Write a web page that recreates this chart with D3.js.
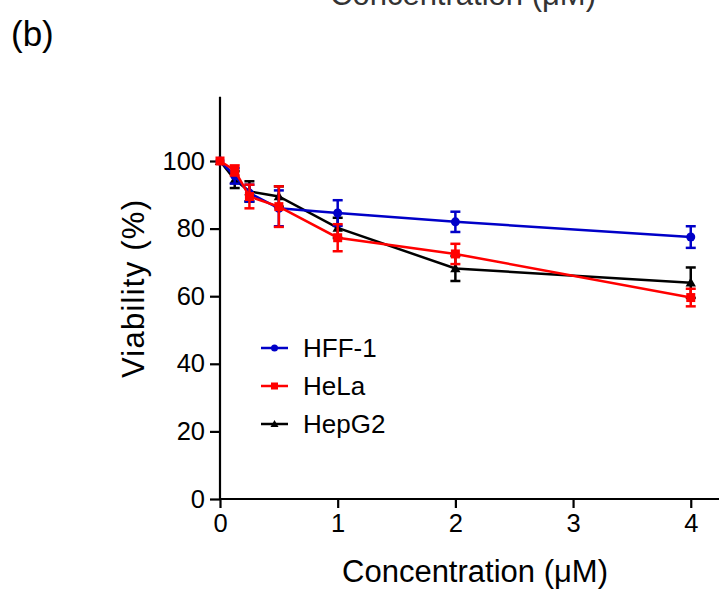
<!DOCTYPE html>
<html>
<head>
<meta charset="utf-8">
<script src="https://cdn.jsdelivr.net/npm/d3@7"></script>
<style>
  body { margin: 0; background: #fff; }
  svg { font-family: Arial, "Liberation Sans", sans-serif; }
</style>
</head>
<body>
<div id="chart"></div>
<script>
// data
const concentrations = [0, 0.125, 0.25, 0.5, 1, 2, 4];
const xTicks = [0, 1, 2, 3, 4];
const yTicks = [0, 20, 40, 60, 80, 100];

const hffMean = [100, 95.6, 90.5, 86, 84.6, 82, 77.5];
const hffErr  = [0.8, 2.3, 2.5, 5.3, 3.8, 3.0, 3.2];
const helaMean = [100, 97.2, 89.5, 86.5, 77.3, 72.5, 59.6];
const helaErr  = [0.8, 1.5, 3.5, 6.0, 4.0, 3.0, 2.6];
const hepMean = [100, 94.5, 91.0, 89.5, 80.2, 68.2, 64.0];
const hepErr  = [0.8, 2.5, 3.0, 3.0, 3.0, 3.7, 4.5];

const series = [
    {name: "HFF-1", mean: hffMean, err: hffErr, color: "#0000c8", shape: "circle"},
    {name: "HeLa", mean: helaMean, err: helaErr, color: "#ff0000", shape: "square"},
    {name: "HepG2", mean: hepMean, err: hepErr, color: "#000000", shape: "triangle"}
];

const W = 719, H = 594;
const svg = d3.select("#chart").append("svg")
    .attr("width", W).attr("height", H);

// scales
const x = d3.scaleLinear().domain([0, 4.24]).range([220, 719]);
const y = d3.scaleLinear().domain([0, 100]).range([499, 161]);

// panel label and cut-off title from the panel above
svg.append("text").text("(b)")
    .attr("x", 11).attr("y", 46)
    .attr("font-size", 35);
svg.append("text").text("Concentration (\u03bcM)")
    .attr("x", 463).attr("y", 5)
    .attr("text-anchor", "middle").attr("font-size", 31)
    .attr("fill", "#333");

// axes
const xAxis = d3.axisBottom(x).tickValues(xTicks).tickSize(9).tickPadding(6)
    .tickFormat(d3.format("d"));
const yAxis = d3.axisLeft(y).tickValues(yTicks).tickSize(10).tickPadding(5);

const gx = svg.append("g").attr("transform", `translate(0,${y(0)})`).call(xAxis);
const gy = svg.append("g").attr("transform", `translate(${x(0)},0)`).call(yAxis);
[gx, gy].forEach(g => {
    g.selectAll("path, line").attr("stroke", "#000").attr("stroke-width", 2.2);
    g.selectAll("text").attr("font-size", 25.5).attr("fill", "#000")
        .attr("font-family", "Arial, 'Liberation Sans', sans-serif");
});
gx.select(".domain").attr("d", `M${x(0) - 1},0H${W}`);
gy.select(".domain").attr("d", `M0,${y(0)}V${y(119)}`);

// axis titles
svg.append("text").text("Concentration (\u03bcM)")
    .attr("x", 475).attr("y", 582)
    .attr("text-anchor", "middle").attr("font-size", 31);
svg.append("text").text("Viability (%)")
    .attr("transform", `translate(144,289) rotate(-90)`)
    .attr("text-anchor", "middle").attr("font-size", 31)
    .attr("textLength", 178).attr("lengthAdjust", "spacing");

function drawMarker(g, shape, cx, cy, color, size) {
    if (shape === "circle") {
        g.append("circle").attr("cx", cx).attr("cy", cy).attr("r", size).attr("fill", color);
    } else if (shape === "square") {
        g.append("rect").attr("x", cx - size).attr("y", cy - size)
            .attr("width", size * 2).attr("height", size * 2).attr("fill", color);
    } else {
        const s = size * 1.15;
        g.append("path").attr("d", `M${cx},${cy - s}L${cx + s},${cy + s * 0.75}L${cx - s},${cy + s * 0.75}Z`)
            .attr("fill", color);
    }
}

const line = d3.line().x((d, i) => x(concentrations[i])).y(d => y(d));

// draw in order so red ends on top like in the picture
const drawOrder = [series[2], series[0], series[1]];
drawOrder.forEach(s => {
    const g = svg.append("g");
    g.append("path").datum(s.mean)
        .attr("d", line).attr("fill", "none")
        .attr("stroke", s.color).attr("stroke-width", 2.5);
    s.mean.forEach((m, i) => {
        const cx = x(concentrations[i]);
        if (i > 0) {
            g.append("line").attr("x1", cx).attr("x2", cx)
                .attr("y1", y(m - s.err[i])).attr("y2", y(m + s.err[i]))
                .attr("stroke", s.color).attr("stroke-width", 2.5);
            [m - s.err[i], m + s.err[i]].forEach(v => {
                g.append("line").attr("x1", cx - 5).attr("x2", cx + 5)
                    .attr("y1", y(v)).attr("y2", y(v))
                    .attr("stroke", s.color).attr("stroke-width", 2.5);
            });
        }
        drawMarker(g, s.shape, cx, y(m), s.color, 4.5);
    });
});

// legend
const legend = svg.append("g");
series.forEach((s, i) => {
    const ly = 348 + i * 38;
    legend.append("line").attr("x1", 261).attr("x2", 288)
        .attr("y1", ly).attr("y2", ly)
        .attr("stroke", s.color).attr("stroke-width", 2.5);
    drawMarker(legend, s.shape, 274.5, ly, s.color, 3.5);
    legend.append("text").text(s.name)
        .attr("x", 303).attr("y", ly + 9).attr("font-size", 26);
});
</script>
</body>
</html>
